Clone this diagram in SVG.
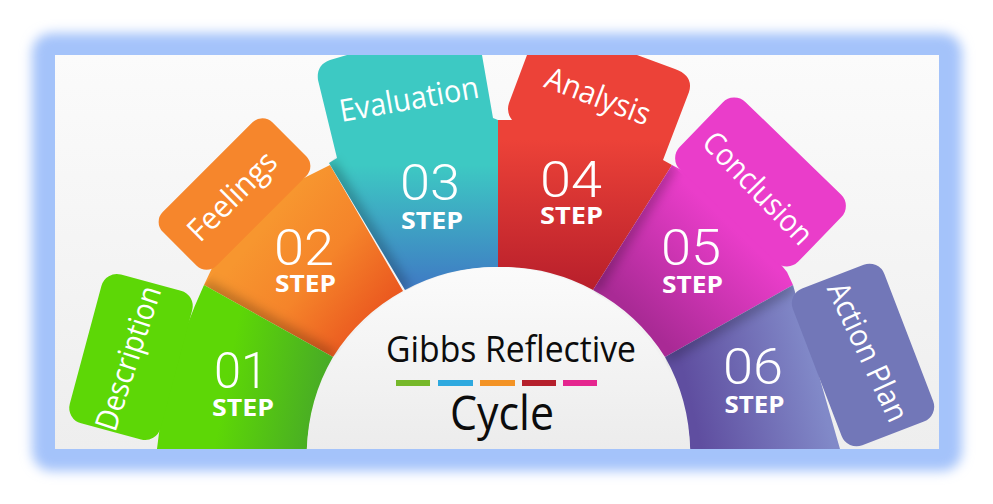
<svg xmlns="http://www.w3.org/2000/svg" width="993" height="504" viewBox="0 0 993 504">
<style>
.num{font-family:"Roboto","Liberation Sans",sans-serif;font-weight:300;font-size:50px;fill:#fff;text-anchor:middle}
.step{font-family:"Open Sans","Liberation Sans",sans-serif;font-weight:700;font-size:24px;fill:#fff;text-anchor:middle}
.lab{font-family:"Open Sans","Liberation Sans",sans-serif;font-weight:400;font-size:31px;fill:#fff;text-anchor:middle}
.title{font-family:"Open Sans","Liberation Sans",sans-serif;fill:#0c0c0c;text-anchor:middle}
.sh{fill:none;stroke:#000;stroke-width:10;stroke-opacity:.3;filter:url(#b6)}
</style>
<defs>
<filter id="glow" x="-10%" y="-15%" width="120%" height="130%"><feGaussianBlur stdDeviation="6"/></filter>
<filter id="b6" x="-50%" y="-50%" width="200%" height="200%"><feGaussianBlur stdDeviation="6"/></filter>
<linearGradient id="bg" x1="0" y1="55" x2="0" y2="449" gradientUnits="userSpaceOnUse"><stop offset="0" stop-color="#fbfbfb"/><stop offset="1" stop-color="#eeeeee"/></linearGradient>
<linearGradient id="dome" x1="0" y1="267" x2="0" y2="449" gradientUnits="userSpaceOnUse"><stop offset="0" stop-color="#fbfbfb"/><stop offset="1" stop-color="#ececec"/></linearGradient>
<linearGradient id="g1" x1="225" y1="390" x2="335" y2="410" gradientUnits="userSpaceOnUse"><stop offset="0" stop-color="#5dd706"/><stop offset="1" stop-color="#45a52a"/></linearGradient>
<linearGradient id="g2" x1="265" y1="225" x2="385" y2="325" gradientUnits="userSpaceOnUse"><stop offset="0" stop-color="#f7962f"/><stop offset=".45" stop-color="#f5842a"/><stop offset="1" stop-color="#e9521e"/></linearGradient>
<linearGradient id="g3" x1="0" y1="165" x2="0" y2="285" gradientUnits="userSpaceOnUse"><stop offset="0" stop-color="#3dc9c3"/><stop offset="1" stop-color="#3f7cc4"/></linearGradient>
<linearGradient id="g4" x1="0" y1="140" x2="0" y2="290" gradientUnits="userSpaceOnUse"><stop offset="0" stop-color="#ec4238"/><stop offset="1" stop-color="#b81f2b"/></linearGradient>
<linearGradient id="g5" x1="730" y1="225" x2="640" y2="320" gradientUnits="userSpaceOnUse"><stop offset="0" stop-color="#ea3dca"/><stop offset="1" stop-color="#a92a95"/></linearGradient>
<linearGradient id="g6" x1="690" y1="400" x2="815" y2="370" gradientUnits="userSpaceOnUse"><stop offset="0" stop-color="#5f4ea0"/><stop offset="1" stop-color="#8189c8"/></linearGradient>
<clipPath id="pic"><rect x="55" y="55" width="884" height="394"/></clipPath>
<clipPath id="c2"><path d="M204 285L212 275L330 165L403 291L333 357Z"/></clipPath>
<clipPath id="c3"><path d="M329 163L405 290L498 267V120L400 100Z"/></clipPath>
<clipPath id="c4"><path d="M498 120H620L672 165L593 290L498 267Z"/></clipPath>
<clipPath id="c5"><path d="M672 165L787 272L793 285L665 357L593 290Z"/></clipPath>
<clipPath id="c6"><path d="M665 357L793 285L840 449H690Z"/></clipPath>
</defs>

<rect x="32" y="33" width="930" height="438" rx="20" fill="#a4c3fa" filter="url(#glow)"/>
<rect x="55" y="55" width="884" height="394" fill="url(#bg)"/>

<g clip-path="url(#pic)">
<g id="node-02">
<path d="M204 285L212 268L240 190L300 180L330 165L403 291A192 192 0 0 0 333 357Z" fill="url(#g2)"/>
<path d="M204 285L333 357" class="sh" clip-path="url(#c2)"/>
<rect x="157" y="156" width="155" height="76" rx="14" transform="rotate(-45 234.500 194)" fill="#f6862c"/>
<text class="lab" transform="translate(232 196) rotate(-45)" dy=".35em" textLength="112" lengthAdjust="spacingAndGlyphs">Feelings</text>
<text class="num" x="304" y="265" textLength="60" lengthAdjust="spacingAndGlyphs">02</text><text class="step" x="305.500" y="292" textLength="61" lengthAdjust="spacingAndGlyphs">STEP</text>
</g>
<g id="node-03">
<path d="M337 158L329 163L405 290A192 192 0 0 1 498 267V120L493 118L482 55H347L330 60Q316 65 318 80Z" fill="url(#g3)"/>
<path d="M329 163L405 290" class="sh" clip-path="url(#c3)"/>
<text class="lab" transform="translate(409 99) rotate(-10)" dy=".35em" textLength="141" lengthAdjust="spacingAndGlyphs">Evaluation</text>
<text class="num" x="430" y="200" textLength="60" lengthAdjust="spacingAndGlyphs">03</text><text class="step" x="432" y="229" textLength="62" lengthAdjust="spacingAndGlyphs">STEP</text>
</g>
<g id="node-04">
<path d="M498 120H512Q506 112 509 103L527 55H637L675 69Q694 76 689 92L663 160L672 165L593 290A192 192 0 0 0 498 267Z" fill="url(#g4)"/>
<path d="M498 120V267" class="sh" clip-path="url(#c4)"/>
<text class="lab" transform="translate(598 96) rotate(21)" dy=".35em" textLength="110" lengthAdjust="spacingAndGlyphs">Analysis</text>
<text class="num" x="571" y="197" textLength="62" lengthAdjust="spacingAndGlyphs">04</text><text class="step" x="571.500" y="224" textLength="63" lengthAdjust="spacingAndGlyphs">STEP</text>
</g>
<g id="node-05">
<path d="M672 165L720 190L787 272L793 285L665 357A192 192 0 0 0 593 290Z" fill="url(#g5)"/>
<path d="M672 165L593 290" class="sh" clip-path="url(#c5)"/>
<rect x="678" y="135" width="165" height="94" rx="16" transform="rotate(44 760.500 182)" fill="#ea3dca"/>
<text class="lab" transform="translate(758 188) rotate(46)" dy=".35em" textLength="143" lengthAdjust="spacingAndGlyphs">Conclusion</text>
<text class="num" x="691" y="265" textLength="60" lengthAdjust="spacingAndGlyphs">05</text><text class="step" x="692.500" y="293" textLength="61" lengthAdjust="spacingAndGlyphs">STEP</text>
</g>
<g id="node-06">
<path d="M665 357L793 285L840 449H690A192 192 0 0 0 665 357Z" fill="url(#g6)"/>
<path d="M665 357L793 285" class="sh" clip-path="url(#c6)"/>
<rect x="779" y="306" width="168" height="98" rx="16" transform="rotate(69 863 355)" fill="#7277b8"/>
<text class="lab" transform="translate(868 352) rotate(65)" dy=".35em" textLength="150" lengthAdjust="spacingAndGlyphs">Action Plan</text>
<text class="num" x="753" y="384" textLength="60" lengthAdjust="spacingAndGlyphs">06</text><text class="step" x="754.500" y="413" textLength="60" lengthAdjust="spacingAndGlyphs">STEP</text>
</g>
<g id="node-01">
<path d="M157 449Q165 370 204 285L333 357A192 192 0 0 0 307 449Z" fill="url(#g1)"/>
<rect x="54" y="310" width="154" height="94" rx="16" transform="rotate(-75 131 357)" fill="#5dd706"/>
<text class="lab" transform="translate(128 358) rotate(-72)" dy=".35em" textLength="150" lengthAdjust="spacingAndGlyphs">Description</text>
<text class="num" x="241" y="388" textLength="54" lengthAdjust="spacingAndGlyphs">01</text><text class="step" x="243" y="416" textLength="62" lengthAdjust="spacingAndGlyphs">STEP</text>
</g>
<g id="node-center">
<circle cx="498.500" cy="459" r="192" fill="url(#dome)"/>
<text class="title" x="511" y="362" font-size="36" textLength="250" lengthAdjust="spacingAndGlyphs">Gibbs Reflective</text>
<rect x="396" y="380" width="34" height="6" fill="#76b82a"/>
<rect x="438" y="380" width="35" height="6" fill="#2ea9df"/>
<rect x="480" y="380" width="35" height="6" fill="#f39325"/>
<rect x="522" y="380" width="34" height="6" fill="#b5202c"/>
<rect x="563" y="380" width="34" height="6" fill="#e5268f"/>
<text class="title" x="502" y="430" font-size="48" textLength="104" lengthAdjust="spacingAndGlyphs">Cycle</text>
</g>
</g>
<g id="connectors"/>
</svg>
